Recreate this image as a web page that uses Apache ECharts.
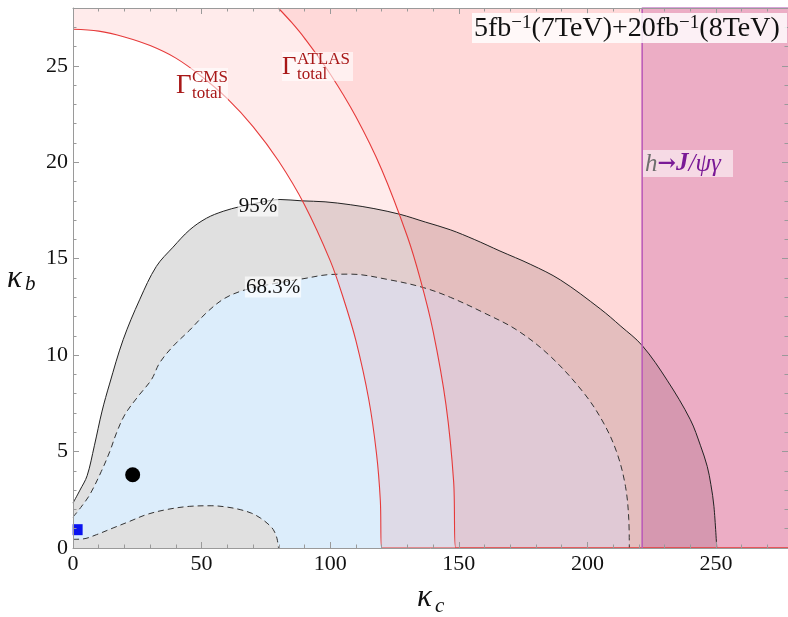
<!DOCTYPE html>
<html>
<head>
<meta charset="utf-8">
<script src="https://cdn.jsdelivr.net/npm/echarts@6/dist/echarts.min.js"></script>
<style>html,body{margin:0;padding:0;background:#fff;}#c{width:788px;height:617px;}</style>
</head>
<body>
<div id="c"></div>
<script>
// ---- data ----
const xTicks = [0, 50, 100, 150, 200, 250];
const yTicks = [0, 5, 10, 15, 20, 25];
const contour95 = [[0,2.33],[2.7,3.0],[5.5,3.75],[8.3,5.3],[11.3,7.1],[14.2,8.5],[19.5,10.8],[26,12.9],[32.4,14.6],[38.9,15.6],[45.4,16.5],[51.9,17.1],[58.4,17.46],[64.9,17.7],[72,17.9],[80.5,18.07],[89,18.0],[98,17.95],[107.8,17.8],[117,17.6],[127.2,17.3],[137,16.9],[146.7,16.5],[156,16.0],[166,15.4],[178,14.7],[189.5,13.9],[205,12.4],[213,11.5],[221.3,10.5],[231,8.7],[240,6.66],[244,5.3],[246.6,4.23],[248,3.3],[249.2,2.16],[250.3,0]];
const contour68 = [[0,1.6],[3,2.1],[6.5,2.76],[11,3.97],[14.3,5.0],[16.9,5.96],[20.1,6.9],[25.3,7.86],[30.5,8.73],[33.7,9.6],[38.9,10.46],[45.4,11.3],[51.9,12.2],[58.4,12.9],[64.9,13.3],[72,13.55],[80,13.75],[89,13.95],[100,14.18],[107.8,14.2],[123.3,13.9],[136.3,13.5],[146.7,13.0],[159.7,12.2],[172.6,11.3],[185.6,9.94],[198.6,8.04],[206.3,6.48],[211.5,4.93],[214.8,3.2],[216.1,1.47],[216.3,0]];
const contour68low = [[0,0.45],[3.9,0.47],[9.1,0.69],[15.6,1.04],[22,1.38],[28.5,1.73],[36.3,1.99],[45.4,2.16],[54,2.19],[60,2.12],[65,1.99],[69.5,1.8],[72.8,1.56],[75.8,1.25],[77.9,0.95],[79.3,0.5],[79.9,0]];
const gammaCMS = [[0,26.9],[10,26.8],[20,26.5],[30,26.05],[40,25.4],[50,24.45],[60,23.3],[70,21.85],[80,20.05],[90,17.8],[100,14.9],[105,13.0],[110,10.75],[115,7.7],[118,4.9],[119.5,2.45],[120,0],[278,0]];
const gammaATLAS = [[79.8,28],[85,27.25],[90,26.44],[100,24.58],[110,22.36],[120,19.63],[130,16.15],[135,13.95],[140,11.25],[145,7.45],[148,3.44],[148.8,0],[278,0]];
const jpsiBand = [[221.3,0],[221.3,28],[278,28]];
const bestFit = [[23.2,3.8]];
const smPoint = [[1.8,0.95]];

const chart = echarts.init(document.getElementById('c'), null, {renderer:'canvas'});
const serif = "'Liberation Serif','DejaVu Serif',serif";
const axisCol = '#9a9a9a';
function xAx(pos, labels){
  return {type:'value', position:pos, min:0, max:278, interval:50, z:10,
    axisLine:{show:true, onZero:false, lineStyle:{color:axisCol, width:1}},
    axisTick:{show:true, inside:true, length:6, lineStyle:{color:axisCol}},
    minorTick:{show:true, splitNumber:5, length:3.5, lineStyle:{color:axisCol}},
    splitLine:{show:false},
    axisLabel:{show:labels, showMaxLabel:false, fontFamily:serif, fontSize:22, color:'#111', margin:5}};
}
function yAx(pos, labels){
  return {type:'value', position:pos, min:0, max:28, interval:5, z:10,
    axisLine:{show:true, onZero:false, lineStyle:{color:axisCol, width:1}},
    axisTick:{show:true, inside:true, length:6, lineStyle:{color:axisCol}},
    minorTick:{show:true, splitNumber:5, length:3.5, lineStyle:{color:axisCol}},
    splitLine:{show:false},
    axisLabel:{show:labels, showMaxLabel:false, fontFamily:serif, fontSize:22, color:'#111', margin:5}};
}
const lineBase = {type:'line', symbol:'none', smooth:0.35, silent:true, animation:false, clip:true};
const option = {
  animation:false,
  backgroundColor:'#ffffff',
  grid:{left:73, right:0, top:8, bottom:69},
  xAxis:[xAx('bottom', true), xAx('top', false)],
  yAxis:[yAx('left', true), yAx('right', false)],
  series:[
    Object.assign({}, lineBase, {name:'95%', data:contour95,
      lineStyle:{color:'#222', width:1}, areaStyle:{color:'#e0e0e0', opacity:1, origin:'start'}}),
    Object.assign({}, lineBase, {name:'68.3%', data:contour68,
      lineStyle:{color:'#333', width:1, type:[6,4]}, areaStyle:{color:'#dcedfb', opacity:1, origin:'start'}}),
    Object.assign({}, lineBase, {name:'68.3% low', data:contour68low,
      lineStyle:{color:'#333', width:1, type:[6,4]}, areaStyle:{color:'#e0e0e0', opacity:1, origin:'start'}}),
    Object.assign({}, lineBase, {name:'CMS', data:gammaCMS,
      lineStyle:{color:'#e63a3a', width:1.1}, areaStyle:{color:'rgba(255,0,0,0.115)', origin:'end'}}),
    Object.assign({}, lineBase, {name:'ATLAS', data:gammaATLAS,
      lineStyle:{color:'#e63a3a', width:1.1}, areaStyle:{color:'rgba(255,0,0,0.105)', origin:'end'}}),
    Object.assign({}, lineBase, {name:'J/psi', data:jpsiBand, smooth:false,
      lineStyle:{color:'#bb5cb8', width:1.6}, areaStyle:{color:'rgba(160,0,120,0.2)', opacity:1, origin:'start'}}),
    {type:'scatter', data:bestFit, symbol:'circle', symbolSize:15, itemStyle:{color:'#000', opacity:1}, silent:true, z:5},
    {type:'scatter', data:smPoint, symbol:'rect', symbolSize:[10,11], itemStyle:{color:'#0a14f0', opacity:1}, silent:true, z:5}
  ],
  graphic:[
    // contour labels
    {type:'text', z:100, style:{text:'95%', x:258, y:206, align:'center', verticalAlign:'middle', font:"21px "+serif, fill:'#111', backgroundColor:'rgba(255,255,255,0.65)', padding:[0,1]}},
    {type:'text', z:100, style:{text:'68.3%', x:273, y:287, align:'center', verticalAlign:'middle', font:"21px "+serif, fill:'#111', backgroundColor:'rgba(255,255,255,0.65)', padding:[0,1]}},
    // Gamma CMS
    {type:'rect', z:99, shape:{x:175, y:68, width:53, height:33}, style:{fill:'rgba(255,255,255,0.6)'}},
    {type:'text', z:100, style:{text:'Γ', x:176, y:86, verticalAlign:'middle', font:"27px "+serif, fill:'#a81818'}},
    {type:'text', z:100, style:{text:'CMS', x:192, y:78, verticalAlign:'middle', font:"17px "+serif, fill:'#a81818'}},
    {type:'text', z:100, style:{text:'total', x:192, y:94, verticalAlign:'middle', font:"17px "+serif, fill:'#a81818'}},
    // Gamma ATLAS
    {type:'rect', z:99, shape:{x:282, y:52, width:71, height:29}, style:{fill:'rgba(255,255,255,0.6)'}},
    {type:'text', z:100, style:{text:'Γ', x:282, y:67, verticalAlign:'middle', font:"25px "+serif, fill:'#a81818'}},
    {type:'text', z:100, style:{text:'ATLAS', x:297, y:60, verticalAlign:'middle', font:"17px "+serif, fill:'#a81818'}},
    {type:'text', z:100, style:{text:'total', x:297, y:75, verticalAlign:'middle', font:"17px "+serif, fill:'#a81818'}},
    // title
    {type:'rect', z:99, shape:{x:472, y:13, width:315, height:30}, style:{fill:'rgba(255,255,255,0.82)'}},
    {type:'text', z:100, style:{text:'5fb{s|−1}(7TeV)+20fb{s|−1}(8TeV)', x:474, y:29, verticalAlign:'middle', font:"28px "+serif, fill:'#111',
      rich:{s:{font:"19px "+serif, fill:'#111', verticalAlign:'top', lineHeight:31}}}},
    // h -> J/psi gamma
    {type:'rect', z:99, shape:{x:643, y:150, width:90, height:27}, style:{fill:'rgba(255,255,255,0.55)'}},
    {type:'text', z:100, style:{text:'{h|h}{a|→}{b|J}{p|/ψγ}', x:645, y:164, verticalAlign:'middle', font:"italic 25px "+serif,
      rich:{h:{font:"italic 25px "+serif, fill:'#6e6e6e'}, a:{font:"bold 22px 'DejaVu Serif',serif", fill:'#7a1a96'}, p:{font:"italic 25px "+serif, fill:'#7a1a96'}, b:{font:"italic bold 25px "+serif, fill:'#7a1a96'}}}},
    // axis names
    {type:'text', z:100, style:{text:'κ', x:7, y:279, verticalAlign:'middle', font:"italic 31px "+serif, fill:'#111'}},
    {type:'text', z:100, style:{text:'b', x:25, y:284, verticalAlign:'middle', font:"italic 21px "+serif, fill:'#111'}},
    {type:'text', z:100, style:{text:'κ', x:417, y:598, verticalAlign:'middle', font:"italic 31px "+serif, fill:'#111'}},
    {type:'text', z:100, style:{text:'c', x:435, y:606, verticalAlign:'middle', font:"italic 21px "+serif, fill:'#111'}}
  ]
};
chart.setOption(option);
</script>
</body>
</html>
